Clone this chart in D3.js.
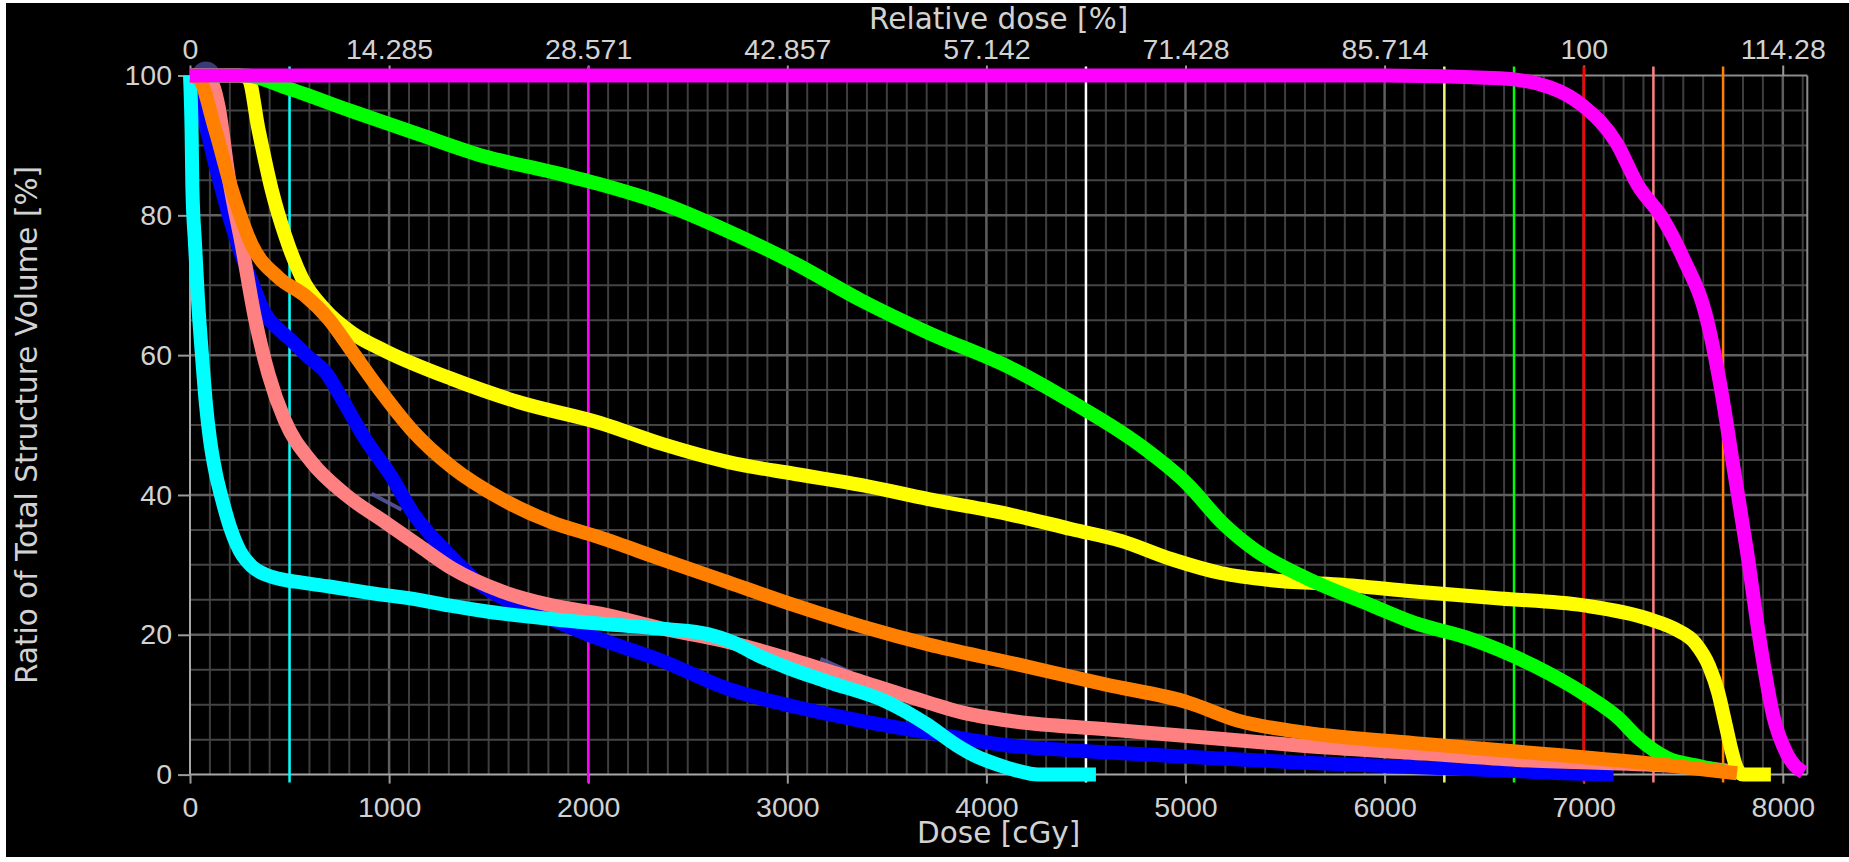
<!DOCTYPE html>
<html>
<head>
<meta charset="utf-8">
<script src="https://cdn.jsdelivr.net/npm/d3@7"></script>
<style>
  body { margin: 0; background: #fff; }
  svg { display: block; font-family: "DejaVu Sans", Verdana, sans-serif; }
  .tick text { fill: #d2d2d2; font-size: 28.5px; }
  .tick line { stroke: #9a9a9a; stroke-width: 2; }
  .title { fill: #d2d2d2; font-size: 29.5px; }
</style>
</head>
<body>
<svg id="chart"></svg>
<script>
const width = 1849;
const height = 862;
const margin = {top: 75.5, right: 41.7, bottom: 87.4, left: 190};
const xMax = 8123;          // right edge of the plot, cGy
const prescription = 7000;  // 100 % relative dose

// DVH curves, [dose cGy, volume %]
const blue = [[0,100],[60,95],[120,88],[190,80.5],[250,75],[310,70.5],[380,65.8],[450,63.6],[520,61.8],[600,59.6],[680,57.6],[760,53.9],[880,48],[1010,42.7],[1120,37.4],[1280,32.1],[1480,26.8],[1730,23.3],[2000,20],[2370,16.3],[2700,12.3],[3040,9.7],[3370,7.7],[3710,6],[4100,4.2],[4600,3.2],[5100,2.4],[5600,1.7],[6200,1],[6600,0.6],[6900,0.2],[7150,0]];
const pink = [[0,100],[100,99.3],[143,95.6],[193,85.7],[260,75.8],[327,65.2],[394,57.3],[477,50.6],[611,44.7],[779,40.1],[980,36.1],[1147,32.8],[1315,29.5],[1566,26.2],[1817,24.2],[2085,22.9],[2370,20.9],[2671,19.2],[3039,16.3],[3374,13.3],[3709,10.3],[3876,8.9],[4144,7.6],[4600,6.5],[5098,5.3],[5600,4.1],[6203,3],[6665,2.1],[7244,1.5],[7600,1],[7760,0.4]];
const cyan = [[0,100],[8,92],[12,84],[25,76],[40,68],[60,60],[80,53],[100,48],[130,43],[160,39.5],[200,35.5],[250,32],[310,29.8],[380,28.6],[450,28],[530,27.6],[700,26.9],[900,26],[1150,25],[1300,24.2],[1500,23.3],[1800,22.3],[2100,21.5],[2400,20.8],[2600,20.1],[2720,19],[2850,17.1],[3000,15.3],[3200,13.3],[3500,10.4],[3700,7.2],[3850,4.2],[3950,2.6],[4050,1.5],[4150,0.6],[4260,0],[4550,0]];
const yellow = [[0,100],[250,100],[293,99.6],[344,92.3],[410,83.7],[478,77.1],[561,71.1],[678,66.5],[812,63.2],[980,60.6],[1315,56.6],[1649,53.3],[2060,50.3],[2370,47.3],[2704,44.7],[3039,43],[3374,41.4],[3709,39.4],[4120,37.2],[4429,35.1],[4680,33.4],[4931,30.8],[5182,28.8],[5433,27.8],[5768,27.2],[6150,26.2],[6580,25.2],[6999,24.2],[7334,22.2],[7460,20.8],[7560,18.8],[7630,15.5],[7675,11.8],[7710,7.5],[7742,3.5],[7768,1],[7800,0],[7940,0]];
const green = [[0,100],[280,100],[478,98.3],[812,94.9],[1147,91.6],[1482,88.4],[1817,86.2],[2050,84.5],[2370,81.7],[2704,77.7],[3039,73.1],[3374,67.8],[3709,63.2],[4120,58.2],[4429,53.3],[4763,47.3],[5015,41.4],[5182,36.1],[5350,32.1],[5601,28.2],[5935,24.2],[6150,21.7],[6413,19.6],[6748,15.6],[6999,11.6],[7166,8.3],[7283,5],[7417,2.4],[7585,1.2],[7700,0.5]];
const orange = [[0,100],[42,99.6],[126,92.3],[210,83.7],[310,75.8],[444,71.1],[578,68.5],[695,65.2],[812,60.6],[946,55.3],[1114,49.3],[1315,44],[1566,39.4],[1817,36.1],[2050,34],[2370,30.8],[2704,27.5],[3039,24.2],[3374,21.2],[3709,18.6],[4120,16],[4596,12.9],[5015,10.3],[5266,7.7],[5601,6],[6150,4.5],[6915,2.7],[7400,1.4],[7770,0.2]];
const magenta = [[0,100],[6000,100],[6580,99.6],[6831,98.3],[6999,95.6],[7166,90.3],[7270,84.4],[7400,79.4],[7501,73.8],[7618,65.2],[7685,55.9],[7752,44],[7819,32.1],[7886,18.9],[7953,8.3],[8020,3],[8105,0.3]];

const doseTicks = [0, 1000, 2000, 3000, 4000, 5000, 6000, 7000, 8000];
const relTicks = [0, 14.285, 28.571, 42.857, 57.142, 71.428, 85.714, 100, 114.28];
const volTicks = [0, 20, 40, 60, 80, 100];
const constraintDoses = [500, 2000, 4500, 6300, 6650, 7000, 7350, 7700];
// the faint drag handles left on the plot: [dose, volume, angle]
const handles = [[966, 37.9, 28], [3226, 14.4, 24]];
const handleDot = [80, 100];

const constraintColors = ['#00ffff', '#ff00ff', '#ffffff', '#f2f27a', '#00ff00', '#ff0000', '#ff8080', '#ff8000'];
// drawn bottom to top
const curves = [
  {data: blue, color: '#0000ff'},
  {data: pink, color: '#ff8080'},
  {data: cyan, color: '#00ffff'},
  {data: yellow, color: '#ffff00'},
  {data: green, color: '#00ff00'},
  {data: orange, color: '#ff8000'},
  {data: magenta, color: '#ff00ff'}
];

const svg = d3.select('#chart')
  .attr('width', width)
  .attr('height', height);

svg.append('rect')
  .attr('x', 6).attr('y', 3)
  .attr('width', width - 6).attr('height', height - 8)
  .attr('fill', '#000');

const x = d3.scaleLinear().domain([0, xMax]).range([margin.left, width - margin.right]);
const xRel = d3.scaleLinear().domain([0, xMax / prescription * 100]).range(x.range());
const y = d3.scaleLinear().domain([0, 100]).range([height - margin.bottom, margin.top]);

// grid
const grid = svg.append('g');
grid.selectAll('.vgrid')
  .data(d3.range(100, xMax, 100))
  .join('line')
  .attr('x1', d => x(d)).attr('x2', d => x(d))
  .attr('y1', y(0)).attr('y2', y(100))
  .attr('stroke', d => d % 1000 === 0 ? '#5e5e5e' : '#3e3e3e')
  .attr('stroke-width', d => d % 1000 === 0 ? 2.5 : 2);

grid.selectAll('.hgrid')
  .data(d3.range(5, 100, 5))
  .join('line')
  .attr('x1', x(0)).attr('x2', x(xMax))
  .attr('y1', d => y(d)).attr('y2', d => y(d))
  .attr('stroke', d => d % 20 === 0 ? '#606060' : '#444')
  .attr('stroke-width', d => d % 20 === 0 ? 2.5 : 2);

// frame
grid.append('line')
  .attr('x1', x(0)).attr('x2', x(xMax)).attr('y1', y(100)).attr('y2', y(100))
  .attr('stroke', '#8c8c8c').attr('stroke-width', 2);
grid.append('line')
  .attr('x1', x(xMax)).attr('x2', x(xMax)).attr('y1', y(0)).attr('y2', y(100))
  .attr('stroke', '#8c8c8c').attr('stroke-width', 2);
grid.append('line')
  .attr('x1', x(0)).attr('x2', x(0)).attr('y1', y(0)).attr('y2', y(100))
  .attr('stroke', '#a8a8a8').attr('stroke-width', 2);
grid.append('line')
  .attr('x1', x(0)).attr('x2', x(xMax)).attr('y1', y(0)).attr('y2', y(0))
  .attr('stroke', '#a8a8a8').attr('stroke-width', 2);

// axes
const bottomAxis = svg.append('g')
  .attr('transform', `translate(0,${y(0)})`)
  .call(d3.axisBottom(x).tickValues(doseTicks).tickSize(9).tickPadding(13).tickFormat(d3.format('d')));
const topAxis = svg.append('g')
  .attr('transform', `translate(0,${y(100)})`)
  .call(d3.axisTop(xRel).tickValues(relTicks).tickSize(10).tickPadding(6.5).tickFormat(d => String(d)));
const leftAxis = svg.append('g')
  .attr('transform', `translate(${x(0)},0)`)
  .call(d3.axisLeft(y).tickValues(volTicks).tickSize(12).tickPadding(6).tickFormat(d3.format('d')));
[bottomAxis, topAxis, leftAxis].forEach(a => a.select('.domain').remove());
svg.selectAll('.tick text').attr('font-family', null).attr('font-size', null);

// dose constraint lines
svg.append('g').selectAll('line')
  .data(constraintDoses)
  .join('line')
  .attr('x1', d => x(d)).attr('x2', d => x(d))
  .attr('y1', y(100) - 9).attr('y2', y(0) + 8)
  .attr('stroke', (d, i) => constraintColors[i])
  .attr('stroke-width', 2.5);

svg.append('circle')
  .attr('cx', x(handleDot[0])).attr('cy', y(handleDot[1]))
  .attr('r', 14)
  .attr('fill', '#3a3a78');

svg.append('g').selectAll('rect')
  .data(handles)
  .join('rect')
  .attr('x', -17).attr('y', -9)
  .attr('width', 34).attr('height', 18)
  .attr('transform', d => `translate(${x(d[0])},${y(d[1])}) rotate(${d[2]})`)
  .attr('fill', 'none')
  .attr('stroke', '#5a5aa6')
  .attr('stroke-width', 4)
  .attr('stroke-dasharray', '34 18')
  .attr('opacity', 0.85);

// DVH curves
const line = d3.line()
  .x(d => x(d[0]))
  .y(d => y(d[1]))
  .curve(d3.curveMonotoneX);

svg.append('g').selectAll('path')
  .data(curves)
  .join('path')
  .attr('d', d => line(d.data))
  .attr('fill', 'none')
  .attr('stroke', d => d.color)
  .attr('stroke-width', 14)
  .attr('stroke-linejoin', 'round')
  .attr('stroke-linecap', 'butt');

// titles
const midX = (x(0) + x(xMax)) / 2;
svg.append('text')
  .attr('class', 'title')
  .attr('x', midX).attr('y', 29)
  .attr('text-anchor', 'middle')
  .text('Relative dose [%]');
svg.append('text')
  .attr('class', 'title')
  .attr('x', midX).attr('y', 843)
  .attr('text-anchor', 'middle')
  .text('Dose [cGy]');
svg.append('text')
  .attr('class', 'title')
  .attr('transform', `translate(37,${(y(0) + y(100)) / 2}) rotate(-90)`)
  .attr('text-anchor', 'middle')
  .text('Ratio of Total Structure Volume [%]');
</script>
</body>
</html>
